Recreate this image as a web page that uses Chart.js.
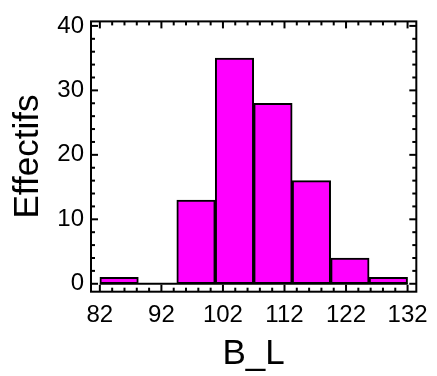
<!DOCTYPE html>
<html>
<head>
<meta charset="utf-8">
<script src="https://cdn.jsdelivr.net/npm/chart.js@4/dist/chart.umd.min.js"></script>
<style>
  html, body { margin: 0; padding: 0; background: #fff; }
  #wrap { width: 437px; height: 376px; position: relative; }
</style>
</head>
<body>
<div id="wrap"><canvas id="c" width="437" height="376"></canvas></div>
<script>
// ---- data ----
const binEdges = [82, 88.25, 94.5, 100.75, 107, 113.25, 119.5, 125.75, 132];
const counts   = [1, 0, 13, 35, 28, 16, 4, 1];
const xTickValues = [82, 92, 102, 112, 122, 132];
const yTickValues = [0, 10, 20, 30, 40];
const xTitle = 'B_L';
const yTitle = 'Effectifs';

const barData = counts.map((c, i) => ({ x: (binEdges[i] + binEdges[i + 1]) / 2, y: c }));
const baseLine = [{ x: binEdges[0], y: 0 }, { x: binEdges[binEdges.length - 1], y: 0 }];

const FONT = "'Liberation Sans', Arial, sans-serif";

const frameTicks = {
  id: 'frameTicks',
  afterDatasetsDraw(chart) {
    const { ctx, chartArea: a, scales: { x, y } } = chart;
    ctx.save();
    ctx.strokeStyle = '#000';
    ctx.lineWidth = 2;
    const seg = (x1, y1, x2, y2) => { ctx.beginPath(); ctx.moveTo(x1, y1); ctx.lineTo(x2, y2); ctx.stroke(); };
    const xs = xTickValues[0], xe = xTickValues[xTickValues.length - 1];
    for (let v = xs; v <= xe + 1e-9; v += 2) {
      const major = xTickValues.some(t => Math.abs(t - v) < 1e-9);
      const len = major ? 7 : 4;
      const px = x.getPixelForValue(v);
      seg(px, a.bottom, px, a.bottom - len);
      seg(px, a.top, px, a.top + len);
    }
    const ys = yTickValues[0], ye = yTickValues[yTickValues.length - 1];
    for (let v = ys; v <= ye + 1e-9; v += 2) {
      const major = yTickValues.some(t => Math.abs(t - v) < 1e-9);
      const len = major ? 7 : 4;
      const py = y.getPixelForValue(v);
      seg(a.left, py, a.left + len, py);
      seg(a.right, py, a.right - len, py);
    }
    ctx.strokeRect(a.left, a.top, a.right - a.left, a.bottom - a.top);
    ctx.restore();
  }
};

new Chart(document.getElementById('c'), {
  type: 'bar',
  data: {
    datasets: [
      {
        type: 'line',
        data: baseLine,
        borderColor: '#000',
        borderWidth: 2,
        pointRadius: 0,
        order: 1
      },
      {
        type: 'bar',
        data: barData,
        backgroundColor: '#FF00FF',
        borderColor: '#000',
        borderWidth: 2,
        borderSkipped: false,
        barPercentage: 1,
        categoryPercentage: 1,
        order: 2
      }
    ]
  },
  options: {
    responsive: false,
    animation: false,
    devicePixelRatio: 1,
    layout: { padding: { top: 12, right: 15, left: 0, bottom: 0 } },
    plugins: { legend: { display: false }, tooltip: { enabled: false } },
    scales: {
      x: {
        type: 'linear',
        offset: false,
        min: 80.56,
        max: 133.42,
        grid: { display: false, drawTicks: false },
        border: { display: false },
        afterBuildTicks: s => { s.ticks = xTickValues.map(v => ({ value: v })); },
        afterFit: s => { s.height = 84.3; },
        ticks: { padding: 9, color: '#000', font: { family: FONT, size: 24 }, maxRotation: 0, autoSkip: false },
        title: { display: true, text: xTitle, color: '#000', font: { family: FONT, size: 35 }, padding: { top: 0, bottom: 1 } }
      },
      y: {
        type: 'linear',
        min: -1.23,
        max: 40.7,
        grid: { display: false, drawTicks: false },
        border: { display: false },
        afterBuildTicks: s => { s.ticks = yTickValues.map(v => ({ value: v })); },
        afterFit: s => { s.width = 91; },
        ticks: { padding: 7, color: '#000', font: { family: FONT, size: 24 } },
        title: { display: true, text: yTitle, color: '#000', font: { family: FONT, size: 35 }, padding: { top: 7, bottom: 0 } }
      }
    }
  },
  plugins: [frameTicks]
});
</script>
</body>
</html>
